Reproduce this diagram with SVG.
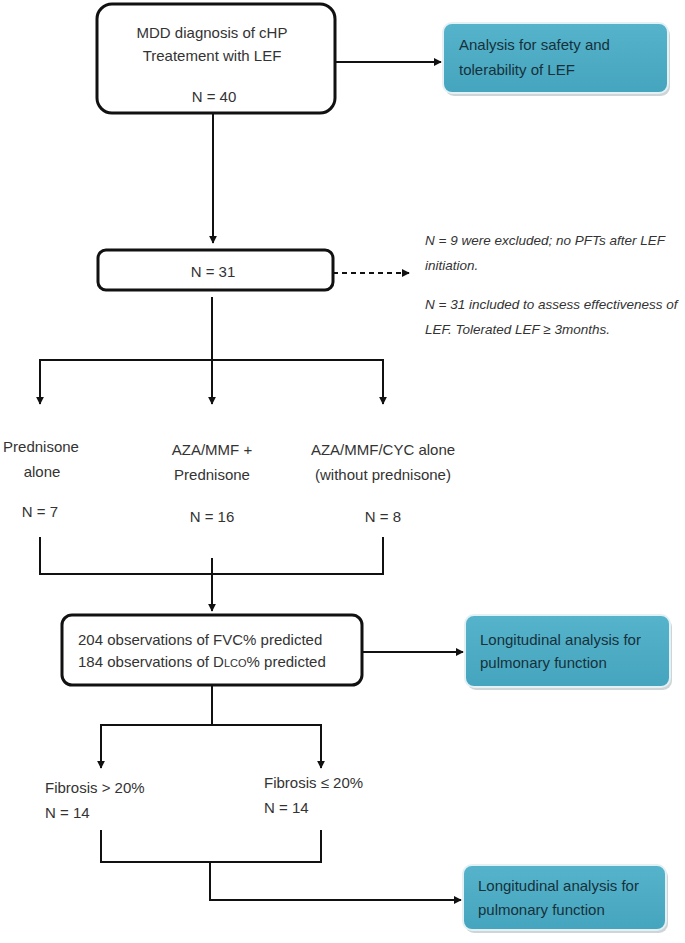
<svg xmlns="http://www.w3.org/2000/svg" width="685" height="943" viewBox="0 0 685 943">
<defs>
<style>
.box{fill:#fff;stroke:#111;stroke-width:3}
.teal{fill:url(#tg);stroke:#e4f1f4;stroke-width:2}
.shadow{fill:#b9c3c7;opacity:0.7}
.t{font-family:"Liberation Sans",Arial,sans-serif;font-size:15px;fill:#333}
.tt{font-family:"Liberation Sans",Arial,sans-serif;font-size:15px;fill:#17313b}
.it{font-family:"Liberation Sans",Arial,sans-serif;font-size:13.5px;font-style:italic;fill:#333}
.c{text-anchor:middle}
.ln{fill:none;stroke:#111;stroke-width:2}
.dash{fill:none;stroke:#111;stroke-width:2;stroke-dasharray:5 4}
</style>
<linearGradient id="tg" x1="0" y1="0" x2="0" y2="1">
<stop offset="0" stop-color="#55b3cb"/>
<stop offset="1" stop-color="#46a5be"/>
</linearGradient>
<marker id="ah" viewBox="0 0 10 10" refX="9" refY="5" markerWidth="8" markerHeight="8" markerUnits="userSpaceOnUse" orient="auto">
<path d="M0,0 L10,5 L0,10 Z" fill="#111"/>
</marker>
</defs>

<g id="connectors">
<path class="ln" d="M335,62 H441" marker-end="url(#ah)"/>
<path class="ln" d="M213,113 V243" marker-end="url(#ah)"/>
<path class="dash" d="M333,273 H409" marker-end="url(#ah)"/>
<path class="ln" d="M212,297 V404" marker-end="url(#ah)"/>
<path class="ln" d="M40,404 V360 H383 V404" />
<path class="ln" d="M40,360 V404" marker-end="url(#ah)"/>
<path class="ln" d="M383,360 V404" marker-end="url(#ah)"/>
<path class="ln" d="M40,537 V574 H383 V537"/>
<path class="ln" d="M212,558 V611" marker-end="url(#ah)"/>
<path class="ln" d="M362,652 H463" marker-end="url(#ah)"/>
<path class="ln" d="M212,686 V725 H321 V768" marker-end="url(#ah)"/>
<path class="ln" d="M212,725 H101 V768" marker-end="url(#ah)"/>
<path class="ln" d="M101,830 V862 H321 V830"/>
<path class="ln" d="M210,862 V900 H461" marker-end="url(#ah)"/>
</g>

<g id="n1">
<rect class="box" x="97" y="4" width="238" height="109" rx="15"/>
<text class="t c" x="212" y="38">MDD diagnosis of cHP</text>
<text class="t c" x="212" y="61">Treatement with LEF</text>
<text class="t c" x="214" y="102">N = 40</text>
</g>

<g id="n2">
<rect class="shadow" x="445" y="26" width="225" height="70" rx="9"/>
<rect class="teal" x="443" y="23" width="225" height="70" rx="9"/>
<text class="tt" x="459" y="50">Analysis for safety and</text>
<text class="tt" x="459" y="75">tolerability of LEF</text>
</g>

<g id="n3">
<rect class="box" x="98" y="250" width="235" height="40" rx="8"/>
<text class="t c" x="213" y="277">N = 31</text>
</g>

<g id="n4">
<text class="it" x="425" y="245">N = 9 were excluded; no PFTs after LEF</text>
<text class="it" x="425" y="270">initiation.</text>
<text class="it" x="425" y="309">N = 31 included to assess effectiveness of</text>
<text class="it" x="425" y="334">LEF. Tolerated LEF ≥ 3months.</text>
</g>

<g id="n5">
<text class="t c" x="41" y="452">Prednisone</text>
<text class="t c" x="42" y="477">alone</text>
<text class="t c" x="40" y="517">N = 7</text>
</g>

<g id="n6">
<text class="t c" x="212" y="455">AZA/MMF +</text>
<text class="t c" x="212" y="480">Prednisone</text>
<text class="t c" x="212" y="522">N = 16</text>
</g>

<g id="n7">
<text class="t c" x="383" y="455">AZA/MMF/CYC alone</text>
<text class="t c" x="383" y="480">(without prednisone)</text>
<text class="t c" x="383" y="522">N = 8</text>
</g>

<g id="n8">
<rect class="box" x="62" y="615" width="300" height="70" rx="10"/>
<text class="t" x="78" y="645">204 observations of FVC% predicted</text>
<text class="t" x="78" y="667">184 observations of D<tspan font-size="11">LCO</tspan>% predicted</text>
</g>

<g id="n9">
<rect class="shadow" x="467" y="618" width="205" height="72" rx="9"/>
<rect class="teal" x="465" y="615" width="205" height="72" rx="9"/>
<text class="tt" x="480" y="645">Longitudinal analysis for</text>
<text class="tt" x="480" y="668">pulmonary function</text>
</g>

<g id="n10">
<text class="t" x="45" y="793">Fibrosis &gt; 20%</text>
<text class="t" x="45" y="818">N = 14</text>
</g>

<g id="n11">
<text class="t" x="264" y="788">Fibrosis ≤ 20%</text>
<text class="t" x="264" y="813">N = 14</text>
</g>

<g id="n12">
<rect class="shadow" x="465" y="868" width="203" height="65" rx="9"/>
<rect class="teal" x="463" y="865" width="203" height="65" rx="9"/>
<text class="tt" x="478" y="891">Longitudinal analysis for</text>
<text class="tt" x="478" y="915">pulmonary function</text>
</g>
</svg>
